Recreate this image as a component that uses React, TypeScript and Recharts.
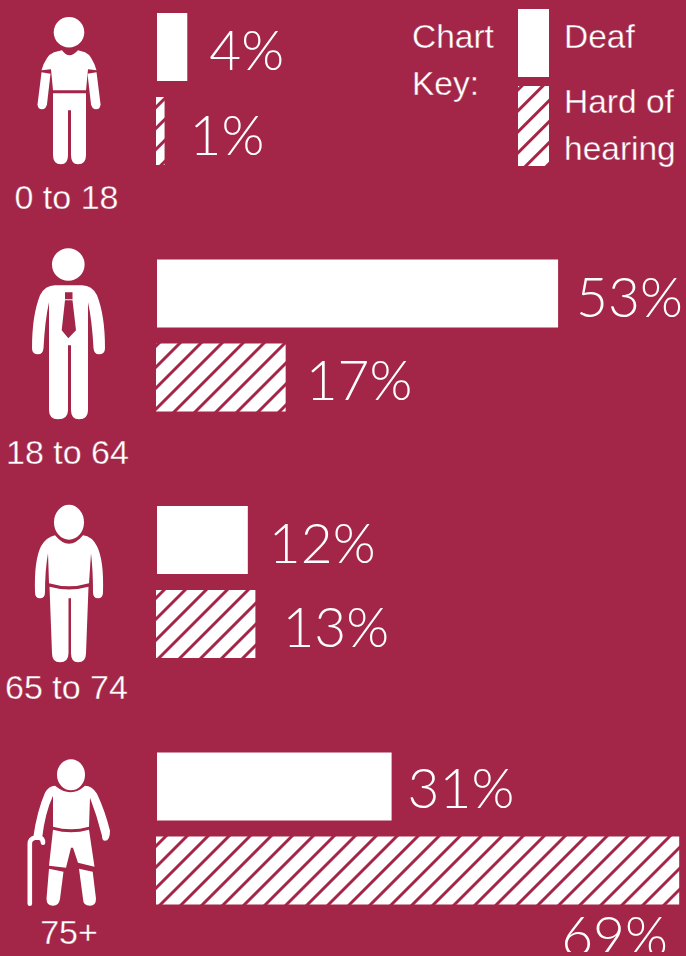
import React from 'react';
import { BarChart, Bar, XAxis, YAxis, Legend, LabelList, Rectangle } from 'recharts';

// Deafness by age group: two bars per row, person icon + age on the y axis.
const CRIMSON = '#A32547';
const WHITE = '#FFFFFF';
const SANS = '"Liberation Sans", Arial, sans-serif';
const NUM_FONT = 'Lato, sans-serif';

const ageGroups = ['0 to 18', '18 to 64', '65 to 74', '75+'];
const deaf = [4, 53, 12, 31];
const hardOfHearing = [1, 17, 13, 69];
const seriesNames = ['Deaf', 'Hard of hearing'];

const data = ageGroups.map((age, i) => ({ age, deaf: deaf[i], hard: hardOfHearing[i] }));

// the percent labels are hand placed in the original, so nudge them per row
const deafNudge = [{ dx: 22, dy: 23 }, { dx: 18, dy: 23 }, { dx: 21, dy: 23 }, { dx: 16, dy: 21 }];
const hardNudge = [{ dx: 25, dy: 24 }, { dx: 20, dy: 22 }, { dx: 27, dy: 23 }, { dx: -118, dy: 85 }];

// row centre (page y) the icons below were drawn against, and age label placement
const rowCentre = [89, 335.5, 582, 828];
const ageBaseline = [120, 128.5, 117, 115];
const ageCentreX = [66.5, 67.5, 66.5, 69];

// each hatched block starts its stripes somewhere different in the original
const chartTop = -34;
const keyLeft = 406;
const hatchPhase = [11.3, 19, 19, 15];
const keyHatchPhase = 19.7;
const hatchTile = 14.85;
const hatchLine = 3;

function Hatch({ id, shift }: { id: string; shift: number }) {
  return (
    <pattern id={id} patternUnits="userSpaceOnUse" width={hatchTile} height={hatchTile} patternTransform={`translate(${shift}) rotate(45)`}>
      <rect width={hatchTile} height={hatchTile} fill={WHITE} />
      <rect width={hatchLine} height={hatchTile} fill={CRIMSON} />
    </pattern>
  );
}

function Child() {
  return (
    <g fill={WHITE}>
      <circle cx={69} cy={32} r={15.3} />
      <path d="M62 50 Q69 60 78 50 L85 52 Q92 55 96.5 70 L88 69 L86 90 L53 90 L51 69 L41.5 70 Q46 55 54 52 Z" />
      <path d="M53 93 H86 V155 Q86 164 78 164 Q71 164 71 155 V110 H68 V155 Q68 164 61 164 Q53 164 53 155 Z" />
      <path d="M41.5 72 L50.5 73.5 L47 104 Q46 109 42 109 Q37.5 109 37.5 104 Z" />
      <path d="M96.5 72 L87.5 73.5 L91 104 Q92 109 96 109 Q100.5 109 100.5 104 Z" />
    </g>
  );
}

function Adult() {
  return (
    <g>
      <circle cx={68.3} cy={264.3} r={16.3} fill={WHITE} />
      <path fill={WHITE} d="M55 285 H82 Q92 285 97 295 Q105 315 105 348 Q105 354 99 354 Q94 354 93.5 348 Q92 320 88 302 V410 Q88 419 79 419 Q71 419 71 410 V345 H68 V410 Q68 419 58 419 Q49 419 49 410 V302 Q45 320 43.5 348 Q43 354 38 354 Q32 354 32 348 Q32 315 40 295 Q45 285 55 285 Z" />
      <path fill={CRIMSON} d="M65 292 H72.5 V299 H65 Z M65 300 H72.5 L76 330 L68.3 338 L61.7 330 Z" />
    </g>
  );
}

function Senior() {
  return (
    <g fill={WHITE}>
      <ellipse cx={69} cy={522} rx={15} ry={17.5} />
      <path d="M55 535 Q69 552 83 535 Q92 536 97 546 Q104 560 103 592 Q103 598 98 598 Q93 598 93 592 Q93 570 91 553 L89 583 Q69 589 49 583 L48 553 Q45 570 45 592 Q45 598 40 598 Q35 598 35 592 Q34 560 41 546 Q46 537 55 535 Z" />
      <path d="M49.5 586.5 Q69 592 88.5 586.5 L86 653 Q86 662 78 662 Q71 662 71 653 V598 H68.5 V653 Q68.5 662 60 662 Q52 662 52 653 Z" />
    </g>
  );
}

function Elder() {
  return (
    <g fill={WHITE}>
      <ellipse cx={71} cy={774} rx={14} ry={15.5} />
      <path d="M55 785 Q71 798 85 785 Q92 785 97 793 Q105 810 110 830 Q110 840 105 840 Q102 840 102 835 Q97 815 90 797 L89 826 Q71 831 53 826 L53 795 Q45 812 42 838 L33 838 Q37 810 45 792 Q49 785 55 785 Z" />
      <path d="M53 829 Q71 834 89 829 L94.5 866 L78 862 L73 847 L71 847 L66 867 L49 865 Z" />
      <path d="M49 868 L63.5 871 L60 898 Q59 905 53 905 Q46.5 905 46.5 898 Z" />
      <path d="M79 868 L92.7 871 L96 898 Q96 905 90 905 Q83 905 83 898 Z" />
      <path d="M29.8 903 V843 Q29.8 838 35 837 H39 Q43 837 43 842" fill="none" stroke={WHITE} strokeWidth={4.6} strokeLinecap="round" />
    </g>
  );
}

const icons = [Child, Adult, Senior, Elder];

function AgeTick({ y, index, payload }: any) {
  const Icon = icons[index];
  const top = y - rowCentre[index];
  return (
    <g transform={`translate(0,${top})`}>
      <Icon />
      <text
        x={ageCentreX[index]}
        y={rowCentre[index] + ageBaseline[index]}
        textAnchor="middle"
        fill={WHITE}
        stroke={CRIMSON}
        strokeWidth={0.35}
        fontFamily={SANS}
        fontSize={34}
      >
        {payload.value}
      </text>
    </g>
  );
}

function percentLabel(nudge: { dx: number; dy: number }[]) {
  return ({ x, y, width, height, value, index }: any) => (
    <text
      x={x + width + nudge[index].dx}
      y={y + height / 2 + nudge[index].dy}
      fill={WHITE}
      fontFamily={NUM_FONT}
      fontWeight={300}
      fontSize={55}
    >
      {value}%
    </text>
  );
}

// hatched bars sit 1px further left than the solid ones
const HatchedBar = (props: any) => (
  <Rectangle {...props} x={props.x - 1} width={props.width + 1} fill={`url(#hatch-${props.index})`} />
);

function ChartKey() {
  const t = { fill: WHITE, stroke: CRIMSON, strokeWidth: 0.35, fontFamily: SANS, fontSize: 33.5 };
  return (
    <svg width={280} height={180} style={{ display: 'block' }}>
      <defs>
        <Hatch id="hatch-key" shift={keyHatchPhase - keyLeft - hatchLine / Math.SQRT2} />
      </defs>
      <text x={6} y={48} {...t}>Chart</text>
      <text x={6} y={95} {...t}>Key:</text>
      <rect x={112} y={9} width={31} height={68} fill={WHITE} />
      <rect x={112} y={86} width={31} height={80} fill="url(#hatch-key)" />
      <text x={158} y={48} {...t}>{seriesNames[0]}</text>
      <text x={158} y={113} {...t}>Hard of</text>
      <text x={158} y={160} {...t}>hearing</text>
    </svg>
  );
}

export default function App() {
  return (
    <div style={{ position: 'absolute', left: 0, top: 0, width: 686, height: 956, overflow: 'hidden', background: CRIMSON }}>
      <div style={{ position: 'absolute', left: 0, top: chartTop }}>
        <BarChart
          width={686}
          height={986}
          data={data}
          layout="vertical"
          barSize={68}
          barGap={16}
          margin={{ top: 0, right: 0, bottom: 0, left: 0 }}
        >
          <defs>
            {hatchPhase.map((p, i) => (
              <Hatch key={i} id={`hatch-${i}`} shift={p - chartTop - hatchLine / Math.SQRT2} />
            ))}
          </defs>
          <XAxis type="number" domain={[0, 69.9]} hide />
          <YAxis
            type="category"
            dataKey="age"
            width={157}
            axisLine={false}
            tickLine={false}
            interval={0}
            tick={AgeTick}
          />
          <Legend
            layout="horizontal"
            verticalAlign="middle"
            content={ChartKey}
            wrapperStyle={{ left: keyLeft, top: -chartTop, width: 280, height: 180 }}
          />
          <Bar dataKey="deaf" name={seriesNames[0]} fill={WHITE} isAnimationActive={false}>
            <LabelList dataKey="deaf" content={percentLabel(deafNudge)} />
          </Bar>
          <Bar dataKey="hard" name={seriesNames[1]} fill={WHITE} shape={HatchedBar} isAnimationActive={false}>
            <LabelList dataKey="hard" content={percentLabel(hardNudge)} />
          </Bar>
        </BarChart>
      </div>
    </div>
  );
}
